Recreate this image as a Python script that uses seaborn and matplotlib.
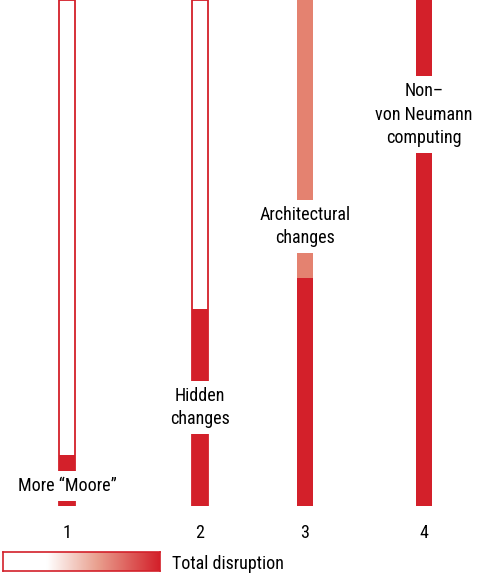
import numpy as np
import pandas as pd
import matplotlib
matplotlib.use("Agg")
import matplotlib.pyplot as plt
import matplotlib.colors as mcolors
import seaborn as sns

# Stage data (disruption level, 0-100 scale)
stages = ["1", "2", "3", "4"]
stage_x = [67, 200, 305, 424]
outline_level = [100, 100, 0, 0]   # open (white) bar reaching the top
partial_level = [0, 0, 100, 0]     # lighter shade
full_level = [10, 39, 45, 100]     # solid red part
stage_labels = ["More \u201cMoore\u201d", "Hidden\nchanges",
                "Architectural\nchanges", "Non\u2013\nvon Neumann\ncomputing"]
label_y = [4, 19.5, 55.2, 77.3]
legend_text = "Total disruption"

RED = "#d3202a"
SALMON = "#e48270"

sns.set_theme(style="white")
plt.rcParams["font.family"] = ["Roboto Condensed", "Open Sans Condensed",
                               "Liberation Sans", "DejaVu Sans"]
FS = 13

df = pd.DataFrame({"x": stage_x, "outline": outline_level,
                   "partial": partial_level, "full": full_level})

fig = plt.figure(figsize=(4.81, 5.76), dpi=100)
fig.patch.set_facecolor("white")
ax = fig.add_axes([0, 70 / 576, 1, 506 / 576])

w = 16 / 105
common = dict(data=df, x="x", native_scale=True, width=w, errorbar=None,
              saturation=1, ax=ax)
sns.barplot(y="outline", color="white", edgecolor=RED, linewidth=1.3, **common)
sns.barplot(y="partial", color=SALMON, linewidth=0, **common)
sns.barplot(y="full", color=RED, linewidth=0, **common)

for x, y, lab in zip(stage_x, label_y, stage_labels):
    ax.text(x, y, lab, ha="center", va="center", fontsize=FS, linespacing=1.4,
            color="black", zorder=5,
            bbox=dict(boxstyle="square,pad=0.32", facecolor="white", edgecolor="none"))

ax.set_xlim(0, 481)
ax.set_ylim(0, 100)
ax.set_xticks(stage_x, stages)
ax.set_yticks([])
ax.set_xlabel("")
ax.set_ylabel("")
ax.tick_params(axis="x", length=0, pad=13, labelsize=FS, labelcolor="black")
for s in ax.spines.values():
    s.set_visible(False)
ax.set_facecolor("white")

# gradient legend
lax = fig.add_axes([3 / 481, 5 / 576, 157 / 481, 19 / 576])
cmap = mcolors.LinearSegmentedColormap.from_list(
    "disrupt", [(0, "white"), (0.28, "white"), (0.6, "#e9a08f"), (1, RED)])
lax.imshow(np.linspace(0, 1, 256)[None, :], aspect="auto", cmap=cmap)
lax.set_xticks([])
lax.set_yticks([])
for s in lax.spines.values():
    s.set_edgecolor(RED)
    s.set_linewidth(1.2)
fig.text(172 / 481, 1 - 564 / 576, legend_text, ha="left", va="center",
         fontsize=FS, color="black")

fig.savefig("out.png", dpi=100, facecolor="white")
